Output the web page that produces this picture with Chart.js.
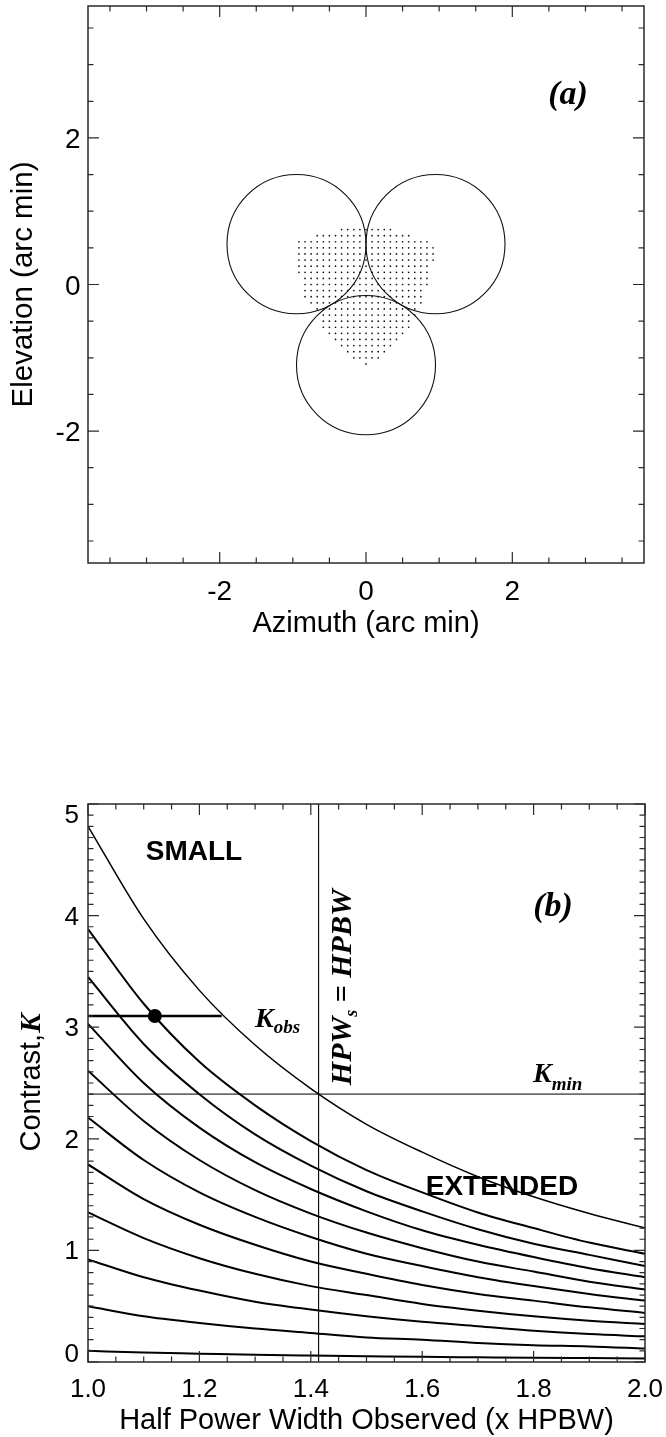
<!DOCTYPE html>
<html>
<head>
<meta charset="utf-8">
<script src="https://cdn.jsdelivr.net/npm/chart.js@4.4.1/dist/chart.umd.min.js"></script>
<style>
  body { margin: 0; background: #fff; }
  #wrap { position: relative; width: 666px; height: 1437px; }
  #beamChart { position: absolute; left: 0; top: 0; }
  #contrastChart { position: absolute; left: 0; top: 700px; }
</style>
</head>
<body>
<div id="wrap">
  <canvas id="beamChart" width="666" height="660"></canvas>
  <canvas id="contrastChart" width="666" height="737"></canvas>
</div>
<script>
// ---------- panel (a): beams on the sky and the source grid ----------
const beamAz = [-0.95, 0.95, 0.0];   // arc min
const beamEl = [0.55, 0.55, -1.1];
const beamRadius = 0.95;

// source positions, 5 arcsec grid: row index (top to bottom) and column range per row
const gridStep = 5 / 60;
const gridRows   = [9, 8, 7, 6, 5, 4, 3, 2, 1, 0, -1, -2, -3, -4, -5, -6, -7, -8, -9, -10, -11, -12, -13];
const gridColMin = [-4, -8, -11, -11, -11, -11, -11, -11, -10, -10, -10, -10, -9, -8, -7, -7, -7, -6, -5, -4, -3, -2, 0];
const gridColMax = [4, 7, 10, 11, 11, 11, 10, 10, 10, 10, 9, 9, 9, 8, 8, 7, 7, 6, 5, 4, 3, 2, 0];

const beamTickLabels = [-2, 0, 2];

// ---------- panel (b): contrast vs observed width ----------
const hpwObserved = [1.0, 1.1, 1.2, 1.3, 1.4, 1.5, 1.6, 1.7, 1.8, 1.9, 2.0];
const contrastCurves = [
  [4.80, 3.97, 3.33, 2.84, 2.45, 2.13, 1.88, 1.66, 1.48, 1.33, 1.20],
  [3.88, 3.21, 2.69, 2.30, 1.98, 1.72, 1.52, 1.34, 1.20, 1.07, 0.97],
  [3.45, 2.85, 2.40, 2.04, 1.76, 1.53, 1.35, 1.19, 1.06, 0.96, 0.86],
  [3.03, 2.50, 2.10, 1.79, 1.55, 1.35, 1.18, 1.05, 0.94, 0.84, 0.76],
  [2.61, 2.16, 1.81, 1.54, 1.33, 1.16, 1.02, 0.90, 0.81, 0.72, 0.65],
  [2.19, 1.81, 1.52, 1.30, 1.12, 0.97, 0.86, 0.76, 0.68, 0.61, 0.55],
  [1.77, 1.46, 1.23, 1.05, 0.90, 0.79, 0.69, 0.61, 0.55, 0.49, 0.44],
  [1.34, 1.11, 0.93, 0.79, 0.68, 0.60, 0.52, 0.46, 0.41, 0.37, 0.34],
  [0.92, 0.76, 0.64, 0.54, 0.47, 0.41, 0.36, 0.32, 0.28, 0.25, 0.23],
  [0.50, 0.41, 0.35, 0.30, 0.26, 0.22, 0.20, 0.17, 0.15, 0.14, 0.12],
  [0.10, 0.085, 0.075, 0.065, 0.058, 0.052, 0.046, 0.042, 0.038, 0.035, 0.032]
];
const kObs = 3.1;
const kObsRange = [1.0, 1.24];
const hpwObs = 1.12;
const kMin = 2.4;
const hpwSource = 1.414;   // HPW_s = HPBW

const hpwTickLabels = [1.0, 1.2, 1.4, 1.6, 1.8, 2.0];
const contrastTickLabels = [0, 1, 2, 3, 4, 5];

const SANS = '"Liberation Sans", Arial, Helvetica, sans-serif';
const SERIF = '"Liberation Serif", "Times New Roman", serif';

// list tick positions between min and max, flagging the major ones
function tickList(min, max, step, majorStep) {
  const out = [];
  const first = Math.ceil(min / step - 1e-9), last = Math.floor(max / step + 1e-9);
  for (let i = first; i <= last; i++) {
    const v = i * step;
    const r = v / majorStep;
    out.push({ v: v, major: Math.abs(r - Math.round(r)) < 1e-6 });
  }
  return out;
}

// box round the plot with inward ticks on all four sides
const frameTicks = {
  id: 'frameTicks',
  afterDatasetsDraw(chart, args, opts) {
    const { ctx, chartArea: a } = chart;
    const sx = chart.scales.x, sy = chart.scales.y;
    ctx.save();
    ctx.strokeStyle = '#2a2a2a';
    ctx.lineWidth = 1.2;
    ctx.beginPath();
    tickList(sx.min, sx.max, opts.xStep, opts.xMajor).forEach(t => {
      const px = sx.getPixelForValue(t.v);
      const len = t.major ? 11 : 5.5;
      ctx.moveTo(px, a.bottom); ctx.lineTo(px, a.bottom - len);
      ctx.moveTo(px, a.top); ctx.lineTo(px, a.top + len);
    });
    tickList(sy.min, sy.max, opts.yStep, opts.yMajor).forEach(t => {
      const py = sy.getPixelForValue(t.v);
      const len = t.major ? 11 : 5.5;
      ctx.moveTo(a.left, py); ctx.lineTo(a.left + len, py);
      ctx.moveTo(a.right, py); ctx.lineTo(a.right - len, py);
    });
    ctx.stroke();
    ctx.lineWidth = 1.5;
    ctx.strokeRect(a.left, a.top, a.right - a.left, a.bottom - a.top);
    ctx.restore();
  }
};

function put(ctx, str, x, y, font, align) {
  ctx.font = font;
  ctx.textAlign = align || 'left';
  ctx.textBaseline = 'alphabetic';
  ctx.fillText(str, x, y);
  return ctx.measureText(str).width;
}

// ---------- chart (a) ----------
const gridPoints = [];
gridRows.forEach((row, i) => {
  for (let c = gridColMin[i]; c <= gridColMax[i]; c++) {
    gridPoints.push({ x: c * gridStep, y: row * gridStep });
  }
});

const beamDecor = {
  id: 'beamDecor',
  afterDatasetsDraw(chart) {
    const { ctx } = chart;
    const sx = chart.scales.x, sy = chart.scales.y;
    ctx.save();
    ctx.strokeStyle = '#111';
    ctx.lineWidth = 1.1;
    beamAz.forEach((az, i) => {
      const cx = sx.getPixelForValue(az), cy = sy.getPixelForValue(beamEl[i]);
      const rx = Math.abs(sx.getPixelForValue(az + beamRadius) - cx);
      const ry = Math.abs(sy.getPixelForValue(beamEl[i] + beamRadius) - cy);
      ctx.beginPath();
      ctx.ellipse(cx, cy, rx, ry, 0, 0, Math.PI * 2);
      ctx.stroke();
    });
    ctx.restore();
  },
  afterDraw(chart) {
    const { ctx, chartArea: a } = chart;
    const sx = chart.scales.x, sy = chart.scales.y;
    ctx.save();
    ctx.fillStyle = '#000';
    const tickFont = '28px ' + SANS;
    beamTickLabels.forEach(v => {
      put(ctx, String(v), sx.getPixelForValue(v), a.bottom + 37, tickFont, 'center');
      put(ctx, String(v), a.left - 7.5, sy.getPixelForValue(v) + 10, tickFont, 'right');
    });
    put(ctx, 'Azimuth (arc min)', (a.left + a.right) / 2, a.bottom + 69, '29px ' + SANS, 'center');
    ctx.save();
    ctx.translate(32, (a.top + a.bottom) / 2);
    ctx.rotate(-Math.PI / 2);
    put(ctx, 'Elevation (arc min)', 0, 0, '29.5px ' + SANS, 'center');
    ctx.restore();
    put(ctx, '(a)', 568, 104, 'italic bold 34px ' + SERIF, 'center');
    ctx.restore();
  }
};

new Chart(document.getElementById('beamChart'), {
  type: 'scatter',
  data: {
    datasets: [{
      data: gridPoints,
      pointRadius: 0.85,
      pointBackgroundColor: '#111',
      pointBorderWidth: 0
    }]
  },
  options: {
    responsive: false,
    animation: false,
    events: [],
    layout: { padding: { left: 88, top: 6, right: 22, bottom: 97 } },
    scales: {
      x: { type: 'linear', min: -3.8, max: 3.8, display: false },
      y: { type: 'linear', min: -3.8, max: 3.8, display: false }
    },
    plugins: {
      legend: { display: false },
      tooltip: { enabled: false },
      frameTicks: { xStep: 0.5, xMajor: 2, yStep: 0.5, yMajor: 2 }
    }
  },
  plugins: [frameTicks, beamDecor]
});

// ---------- chart (b) ----------
const curveSets = contrastCurves.map((vals, i) => ({
  data: hpwObserved.map((h, j) => ({ x: h, y: vals[j] })),
  showLine: true,
  borderColor: '#000',
  borderWidth: i === 0 ? 1.5 : 2,
  pointRadius: 0,
  cubicInterpolationMode: 'monotone',
  tension: 0.4
}));

const contrastDecor = {
  id: 'contrastDecor',
  afterDraw(chart) {
    const { ctx, chartArea: a } = chart;
    const sx = chart.scales.x, sy = chart.scales.y;
    ctx.save();
    ctx.fillStyle = '#000';
    const tickFont = '26px ' + SANS;
    hpwTickLabels.forEach(v => {
      put(ctx, v.toFixed(1), sx.getPixelForValue(v), a.bottom + 35, tickFont, 'center');
    });
    contrastTickLabels.forEach((v, i) => {
      let base = sy.getPixelForValue(v) + 9;
      if (i === 0) base = a.bottom;
      if (i === contrastTickLabels.length - 1) base = a.top + 18.5;
      put(ctx, String(v), a.left - 9, base, tickFont, 'right');
    });
    put(ctx, 'Half Power Width Observed (x HPBW)', (a.left + a.right) / 2, a.bottom + 67, '29px ' + SANS, 'center');

    // y title: "Contrast," + bold italic K
    ctx.save();
    ctx.translate(40, (a.top + a.bottom) / 2);
    ctx.rotate(-Math.PI / 2);
    ctx.font = '29px ' + SANS;
    const w1 = ctx.measureText('Contrast,').width;
    ctx.font = 'italic bold 29px ' + SERIF;
    const w2 = ctx.measureText('K').width;
    const start = -(w1 + w2) / 2;
    put(ctx, 'Contrast,', start, 0, '29px ' + SANS);
    put(ctx, 'K', start + w1 + 1, 0, 'italic bold 29px ' + SERIF);
    ctx.restore();

    put(ctx, 'SMALL', 194, a.top + 56, 'bold 28px ' + SANS, 'center');
    put(ctx, 'EXTENDED', 502, a.top + 391, 'bold 28px ' + SANS, 'center');
    put(ctx, '(b)', 553, a.top + 112, 'italic bold 34px ' + SERIF, 'center');

    // K_obs
    const yo = sy.getPixelForValue(kObs);
    let w = put(ctx, 'K', 255, yo + 11, 'italic bold 28px ' + SERIF);
    put(ctx, 'obs', 255 + w, yo + 17, 'italic bold 19px ' + SERIF);
    // K_min
    const ym = sy.getPixelForValue(kMin);
    w = put(ctx, 'K', 533, ym - 12, 'italic bold 28px ' + SERIF);
    put(ctx, 'min', 533 + w, ym - 4, 'italic bold 19px ' + SERIF);

    // HPW_s = HPBW along the vertical line
    ctx.save();
    ctx.translate(sx.getPixelForValue(hpwSource) + 32, ym - 9);
    ctx.rotate(-Math.PI / 2);
    let p = 0;
    p += put(ctx, 'HPW', p, 0, 'italic bold 30px ' + SERIF);
    p += put(ctx, 's', p, 6, 'italic bold 18px ' + SERIF);
    p += put(ctx, ' = ', p, 0, 'bold 30px ' + SERIF);
    put(ctx, 'HPBW', p, 0, 'italic bold 30px ' + SERIF);
    ctx.restore();
    ctx.restore();
  }
};

new Chart(document.getElementById('contrastChart'), {
  type: 'scatter',
  data: {
    datasets: [
      ...curveSets,
      {
        data: [{ x: hpwSource, y: 0 }, { x: hpwSource, y: 5 }],
        showLine: true, borderColor: '#000', borderWidth: 1.1, pointRadius: 0
      },
      {
        data: [{ x: 1.0, y: kMin }, { x: 2.0, y: kMin }],
        showLine: true, borderColor: '#6a6a6a', borderWidth: 1.6, pointRadius: 0
      },
      {
        data: [{ x: kObsRange[0], y: kObs }, { x: kObsRange[1], y: kObs }],
        showLine: true, borderColor: '#000', borderWidth: 2.6, pointRadius: 0
      },
      {
        data: [{ x: hpwObs, y: kObs }],
        pointRadius: 7, pointBackgroundColor: '#000', pointBorderWidth: 0
      }
    ]
  },
  options: {
    responsive: false,
    animation: false,
    events: [],
    layout: { padding: { left: 88, top: 104, right: 21, bottom: 75 } },
    scales: {
      x: { type: 'linear', min: 1.0, max: 2.0, display: false },
      y: { type: 'linear', min: 0, max: 5, display: false }
    },
    plugins: {
      legend: { display: false },
      tooltip: { enabled: false },
      frameTicks: { xStep: 0.05, xMajor: 0.2, yStep: 0.1, yMajor: 1 }
    }
  },
  plugins: [frameTicks, contrastDecor]
});
</script>
</body>
</html>
